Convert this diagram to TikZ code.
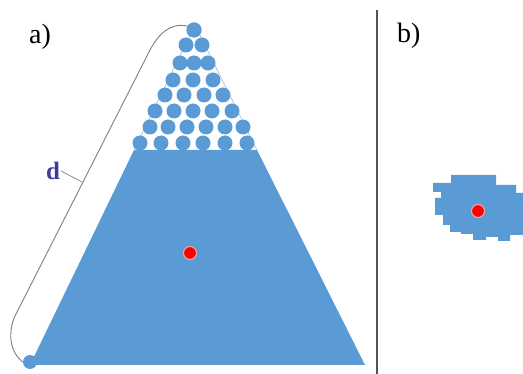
\documentclass[tikz,border=0pt]{standalone}
\usepackage{fontspec}
\setmainfont{Liberation Serif}
\usepackage{tikz}
\usetikzlibrary{positioning, calc}
\definecolor{GrainBlue}{HTML}{5B9BD5}
\definecolor{EdgeBlue}{HTML}{9DB9D8}
\definecolor{CentreRed}{HTML}{FF0000}
\definecolor{CentreRim}{HTML}{F4A6A6}
\definecolor{LabelInk}{HTML}{3C3C9C}
\definecolor{RuleGray}{HTML}{555555}
\definecolor{CurveGray}{HTML}{7F7F7F}
\tikzset{
    % Grains and centre marks
    grain/.style={
        circle,
        fill=GrainBlue,
        draw=none,
        inner sep=0pt,
        minimum size=15pt
    },
    centre/.style={
        circle,
        fill=CentreRed,
        draw=CentreRim,
        line width=1pt,
        inner sep=0pt,
        minimum size=13pt
    },
    % Texts
    panellabel/.style={
        anchor=base west,
        inner sep=0pt,
        font=\fontsize{28}{32}\selectfont
    },
    lengthlabel/.style={
        inner sep=1pt,
        text=LabelInk,
        font=\fontsize{25}{29}\selectfont\bfseries
    },
    % Lines
    thinline/.style={
        draw=CurveGray,
        line width=0.9pt
    }
}
\begin{document}
\begin{tikzpicture}[x=1pt, y=-1pt]
    \useasboundingbox (0,0) rectangle (523,374);
    \fill[white] (0,0) rectangle (523,374);

    % Panel a: solid part of the pile
    \fill[GrainBlue] (134,150) -- (257,150) -- (365,365) -- (30,365) -- cycle;
    \draw[EdgeBlue, line width=0.6pt] (134,150) -- (195,25) -- (257,150);

    % Panel a: packed grains
    \foreach \y/\xs in {30/{194}, 45/{186,202}, 63/{180,194,208},
                        80/{173,193,213}, 95/{165,184,204,223},
                        111/{155,174,193,212,232},
                        127/{150,168,187,206,225,243},
                        143/{140,161,183,203,225,247}}
        \foreach \x in \xs
            \node[grain] at (\x,\y) {};
    \node[grain] (apex) at (194,30) {};
    \node[grain, minimum size=14pt] (base) at (30,362) {};

    % Panel a: length along the slope
    \draw[thinline] (apex.150) .. controls (170,22) and (158,35) .. (150,50)
        -- (14,318) .. controls (8,335) and (10,352) .. (base.west);
    \coordinate (dtick) at (82,182);
    \node[lengthlabel] (dlabel) at (53,171) {d};
    \draw[thinline, line width=0.7pt] (dlabel.east) -- (dtick);

    \node[centre] (centrea) at (190,253) {};
    \node[panellabel] (labela) at (29,44) {a)};

    % Divider
    \coordinate (ruletop) at (377,10);
    \coordinate (rulebottom) at (377,374);
    \draw[RuleGray, line width=1.8pt] (ruletop) -- (rulebottom);

    % Panel b: pixel cluster
    \fill[GrainBlue] (451,175) -- (496,175) -- (496,185) -- (516,185)
        -- (516,193) -- (523,193) -- (523,235) -- (510,235) -- (510,241)
        -- (498,241) -- (498,237) -- (486,237) -- (486,240) -- (473,240)
        -- (473,234) -- (461,234) -- (461,232) -- (450,232) -- (450,225)
        -- (443,225) -- (443,215) -- (435,215) -- (435,198) -- (441,198)
        -- (441,192) -- (433,192) -- (433,183) -- (451,183) -- cycle;
    \node[centre] (centreb) at (478,211) {};
    \node[panellabel] (labelb) at (397,43) {b)};
\end{tikzpicture}
\end{document}
